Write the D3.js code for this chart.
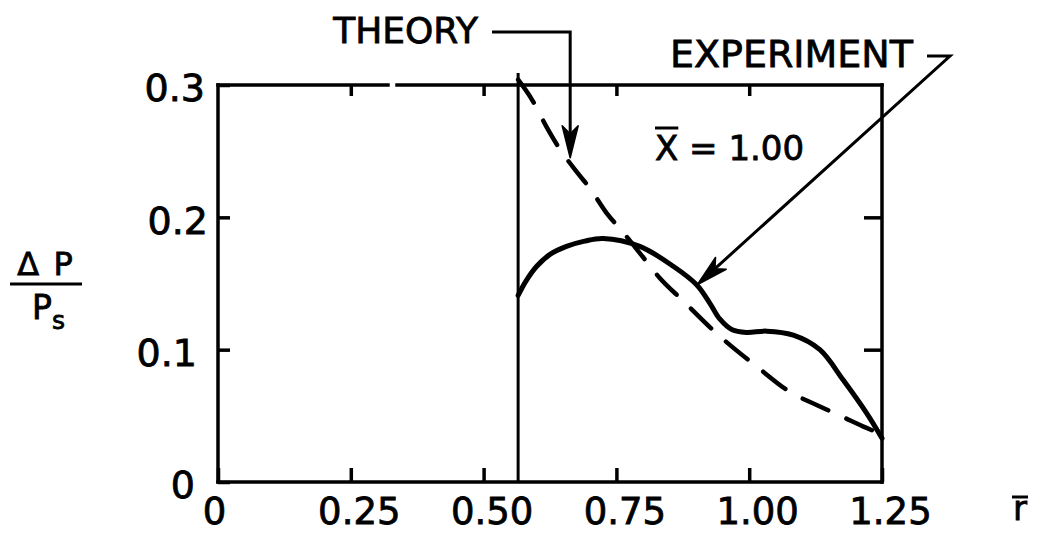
<!DOCTYPE html>
<html>
<head>
<meta charset="utf-8">
<script src="https://cdn.jsdelivr.net/npm/d3@7"></script>
<style>
  html, body { margin: 0; padding: 0; background: #fff; }
  svg { display: block; }
  text { font-family: "DejaVu Sans", sans-serif; fill: #000; stroke: #000; stroke-width: 0.8px; }
</style>
</head>
<body>
<svg id="chart" width="1037" height="533"></svg>
<script>
// Pressure rise Δp/ps along the radius r̄ at station x̄ = 1.00
const experimentR = [0.565, 0.580, 0.600, 0.625, 0.656, 0.690, 0.725, 0.794, 0.857, 0.901, 0.926, 0.945, 0.968, 0.995, 1.033, 1.083, 1.133, 1.177, 1.221, 1.25];
const experimentP = [0.141, 0.152, 0.163, 0.172, 0.178, 0.182, 0.184, 0.178, 0.163, 0.149, 0.135, 0.123, 0.115, 0.113, 0.114, 0.111, 0.100, 0.077, 0.052, 0.033];
const theoryR = [0.565, 0.591, 0.619, 0.638, 0.678, 0.700, 0.732, 0.762, 0.800, 0.832, 0.874, 0.945, 1.015, 1.077, 1.128, 1.177, 1.214, 1.25];
const theoryP = [0.304, 0.289, 0.268, 0.255, 0.233, 0.222, 0.203, 0.189, 0.170, 0.154, 0.1375, 0.110, 0.087, 0.068, 0.058, 0.049, 0.042, 0.036];

// inner wall radius (vertical line)
const wallR = 0.565;

const xTicks = [0, 0.25, 0.5, 0.75, 1.0, 1.25];
const xTickLabels = ["0", "0.25", "0.50", "0.75", "1.00", "1.25"];
const yTicks = [0, 0.1, 0.2, 0.3];
const yTickLabels = ["0", "0.1", "0.2", "0.3"];
const topTicks = [0.25, 0.5, 0.75, 1.0];
const rightTicks = [0.1, 0.2];

const svg = d3.select("#chart");
const x = d3.scaleLinear().domain([0, 1.25]).range([218, 882]);
const y = d3.scaleLinear().domain([0, 0.3]).range([482, 85]);

const AXW = 3.5;

// --- tick marks (all drawn inward) ---
const leftAxis = svg.append("g").attr("transform", `translate(${x(0)},0)`)
  .call(d3.axisLeft(y).tickValues(yTicks).tickSize(-12).tickSizeOuter(0).tickPadding(12)
    .tickFormat((d, i) => yTickLabels[i]));
leftAxis.select(".domain").remove();
leftAxis.selectAll("line").attr("stroke", "#000").attr("stroke-width", AXW);
leftAxis.selectAll("text").attr("font-size", 38).attr("dy", "0.42em")
  .attr("font-family", "DejaVu Sans, sans-serif")
  .attr("dx", (d, i) => [-11, -9, 2, -1][i]);

const bottomAxis = svg.append("g").attr("transform", `translate(0,${y(0)})`)
  .call(d3.axisBottom(x).tickValues(xTicks).tickSize(-14).tickSizeOuter(0).tickPadding(16)
    .tickFormat((d, i) => xTickLabels[i]));
bottomAxis.select(".domain").remove();
bottomAxis.selectAll("line").attr("stroke", "#000").attr("stroke-width", AXW);
bottomAxis.selectAll("text").attr("font-size", 37).attr("font-family", "DejaVu Sans, sans-serif")
  .attr("dx", (d, i) => i === 0 ? -4 : 8);

const rightAxis = svg.append("g").attr("transform", `translate(${x(1.25)},0)`)
  .call(d3.axisRight(y).tickValues(rightTicks).tickSize(-18).tickSizeOuter(0).tickFormat(""));
rightAxis.select(".domain").remove();
rightAxis.selectAll("line").attr("stroke", "#000").attr("stroke-width", AXW);

const topAxis = svg.append("g").attr("transform", `translate(0,${y(0.3)})`)
  .call(d3.axisTop(x).tickValues(topTicks).tickSize(-11).tickSizeOuter(0).tickFormat(""));
topAxis.select(".domain").remove();
topAxis.selectAll("line").attr("stroke", "#000").attr("stroke-width", AXW);

// --- frame ---
const frame = svg.append("g").attr("stroke", "#000").attr("stroke-width", AXW)
  .attr("fill", "none").attr("stroke-linecap", "square");
frame.append("line").attr("x1", x(0)).attr("x2", x(0)).attr("y1", y(0)).attr("y2", y(0.3));
frame.append("line").attr("x1", x(0)).attr("x2", x(1.25)).attr("y1", y(0)).attr("y2", y(0));
frame.append("line").attr("x1", x(1.25)).attr("x2", x(1.25)).attr("y1", y(0)).attr("y2", y(0.3));
frame.append("line").attr("x1", x(0)).attr("x2", x(0.32)).attr("y1", y(0.3)).attr("y2", y(0.3));
frame.append("line").attr("x1", x(0.337)).attr("x2", x(1.25)).attr("y1", y(0.3)).attr("y2", y(0.3));
// wall line
frame.append("line").attr("x1", x(wallR)).attr("x2", x(wallR)).attr("y1", y(0)).attr("y2", y(0.309))
  .attr("stroke-width", 3).attr("stroke-linecap", "butt");

// --- curves ---
const theoryLine = d3.line().x(d => x(d[0])).y(d => y(d[1])).curve(d3.curveMonotoneX);
const experimentLine = d3.line().x(d => x(d[0])).y(d => y(d[1])).curve(d3.curveCatmullRom.alpha(0.5));

svg.append("path")
  .datum(theoryR.map((r, i) => [r, theoryP[i]]))
  .attr("d", theoryLine)
  .attr("fill", "none").attr("stroke", "#000").attr("stroke-width", 4.5)
  .attr("stroke-dasharray", "28,20").attr("stroke-linecap", "round");

svg.append("path")
  .datum(experimentR.map((r, i) => [r, experimentP[i]]))
  .attr("d", experimentLine)
  .attr("fill", "none").attr("stroke", "#000").attr("stroke-width", 5)
  .attr("stroke-linejoin", "round").attr("stroke-linecap", "round");

// --- annotations ---
function arrowHead(tip, from, len, half) {
  const dx = tip[0] - from[0], dy = tip[1] - from[1];
  const L = Math.hypot(dx, dy);
  const ux = dx / L, uy = dy / L, nx = -uy, ny = ux;
  const bx = tip[0] - ux * len, by = tip[1] - uy * len;
  const mx = tip[0] - ux * len * 0.75, my = tip[1] - uy * len * 0.75;
  return `M${tip[0]},${tip[1]} L${bx + nx * half},${by + ny * half} L${mx},${my} L${bx - nx * half},${by - ny * half} Z`;
}

const ann = svg.append("g");

// THEORY
ann.append("text").attr("x", 478).attr("y", 43).attr("text-anchor", "end")
  .attr("font-size", 36).text("THEORY");
const thTip = [x(0.663), y(0.245)];
const thCorner = [thTip[0], 32];
ann.append("path")
  .attr("d", `M492,32 L${thCorner[0]},${thCorner[1]} L${thTip[0]},${thTip[1] - 20}`)
  .attr("fill", "none").attr("stroke", "#000").attr("stroke-width", 3);
ann.append("path").attr("d", arrowHead(thTip, thCorner, 32, 8)).attr("fill", "#000")
  .attr("stroke", "#000").attr("stroke-width", 1.5).attr("stroke-linejoin", "round");

// EXPERIMENT
ann.append("text").attr("x", 913).attr("y", 67).attr("text-anchor", "end")
  .attr("font-size", 38).text("EXPERIMENT");
const exTip = [x(0.902), y(0.149)];
const exCorner = [950, 56];
const exLen = Math.hypot(exTip[0] - exCorner[0], exTip[1] - exCorner[1]);
const exBase = [exTip[0] + (exCorner[0] - exTip[0]) * 20 / exLen, exTip[1] + (exCorner[1] - exTip[1]) * 20 / exLen];
ann.append("path")
  .attr("d", `M927,56 L${exCorner[0]},${exCorner[1]} L${exBase[0]},${exBase[1]}`)
  .attr("fill", "none").attr("stroke", "#000").attr("stroke-width", 3).attr("stroke-linejoin", "miter");
ann.append("path").attr("d", arrowHead(exTip, exCorner, 32, 8)).attr("fill", "#000")
  .attr("stroke", "#000").attr("stroke-width", 1.5).attr("stroke-linejoin", "round");

// x̄ = 1.00
const stationX = ann.append("text").attr("x", 655).attr("y", 160).attr("font-size", 34).text("X");
const sxBox = stationX.node().getBBox();
ann.append("text").attr("x", sxBox.x + sxBox.width).attr("y", 160).attr("font-size", 34)
  .attr("xml:space", "preserve").text(" = 1.00");
ann.append("line").attr("x1", sxBox.x).attr("x2", sxBox.x + sxBox.width)
  .attr("y1", 128).attr("y2", 128).attr("stroke", "#000").attr("stroke-width", 3);

// y-axis label Δp / ps
const yl = svg.append("g");
yl.append("text").attr("x", 46).attr("y", 275).attr("text-anchor", "middle")
  .attr("font-size", 32).attr("letter-spacing", 2).attr("xml:space", "preserve").text("Δ P");
yl.append("line").attr("x1", 10).attr("x2", 82).attr("y1", 284).attr("y2", 284)
  .attr("stroke", "#000").attr("stroke-width", 3);
const den = yl.append("text").attr("x", 32).attr("y", 319).attr("font-size", 33);
den.append("tspan").text("P");
den.append("tspan").attr("font-size", 25).attr("dy", 10).text("s");

// x-axis label r̄
const rl = svg.append("text").attr("x", 1020).attr("y", 520).attr("text-anchor", "middle")
  .attr("font-size", 34).text("r");
const rBox = rl.node().getBBox();
svg.append("line").attr("x1", rBox.x - 1).attr("x2", rBox.x + rBox.width + 1)
  .attr("y1", 497).attr("y2", 497).attr("stroke", "#000").attr("stroke-width", 3);
</script>
</body>
</html>
